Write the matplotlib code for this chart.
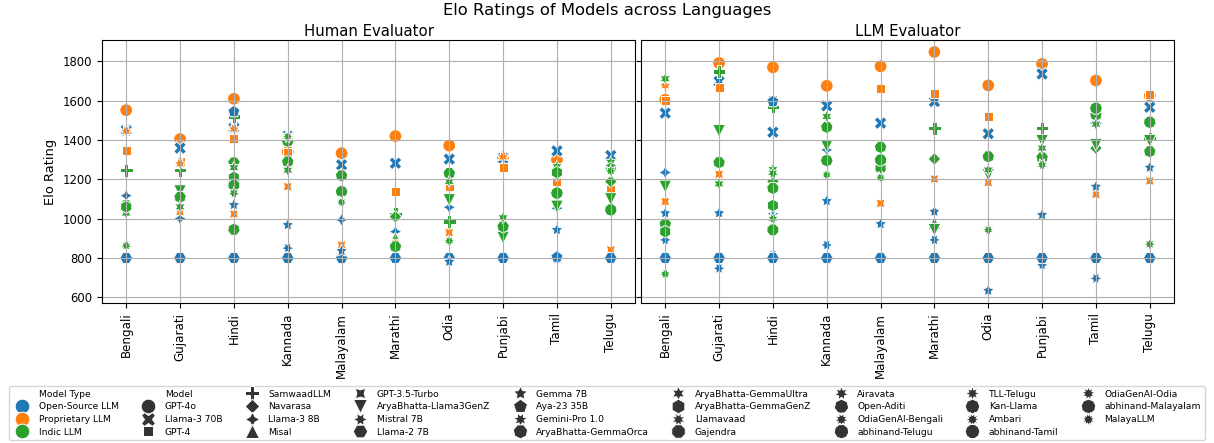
import numpy as np
import pandas as pd
import matplotlib
matplotlib.use("Agg")
import matplotlib.pyplot as plt
import seaborn as sns

nan = np.nan

languages = ["Bengali", "Gujarati", "Hindi", "Kannada", "Malayalam",
             "Marathi", "Odia", "Punjabi", "Tamil", "Telugu"]

type_order = ["Open-Source LLM", "Proprietary LLM", "Indic LLM"]

models = ["GPT-4o", "Llama-3 70B", "GPT-4", "SamwaadLLM", "Navarasa", "Llama-3 8B",
          "Misal", "GPT-3.5-Turbo", "AryaBhatta-Llama3GenZ", "Mistral 7B", "Llama-2 7B",
          "Gemma 7B", "Aya-23 35B", "Gemini-Pro 1.0", "AryaBhatta-GemmaOrca",
          "AryaBhatta-GemmaUltra", "AryaBhatta-GemmaGenZ", "Llamavaad", "Gajendra",
          "Airavata", "Open-Aditi", "OdiaGenAI-Bengali", "abhinand-Telugu", "TLL-Telugu",
          "Kan-Llama", "Ambari", "abhinand-Tamil", "OdiaGenAI-Odia",
          "abhinand-Malayalam", "MalayaLLM"]

open_source = ["Llama-3 70B", "Llama-3 8B", "Mistral 7B", "Llama-2 7B", "Gemma 7B", "Aya-23 35B"]
proprietary = ["GPT-4o", "GPT-4", "GPT-3.5-Turbo", "Gemini-Pro 1.0"]

# per language: model names, human evaluator elo, llm evaluator elo
bengali_models = ["GPT-4o", "Llama-3 70B", "GPT-4", "SamwaadLLM", "Llama-3 8B", "GPT-3.5-Turbo",
                  "AryaBhatta-Llama3GenZ", "Mistral 7B", "Llama-2 7B", "Gemma 7B", "Gemini-Pro 1.0",
                  "AryaBhatta-GemmaOrca", "AryaBhatta-GemmaUltra", "AryaBhatta-GemmaGenZ",
                  "OdiaGenAI-Bengali"]
bengali_human = [1552, 1450, 1347, 1247, 1117, nan, nan, nan, 800, nan, 1445, 1068, 1028, 1060, 862]
bengali_llm = [1605, 1537, 1600, nan, 1235, 1087, 1163, 892, 800, 1028, 1678, 973, 1712, 934, 718]

gujarati_models = ["GPT-4o", "Llama-3 70B", "GPT-4", "SamwaadLLM", "Llama-3 8B", "GPT-3.5-Turbo",
                   "AryaBhatta-Llama3GenZ", "Mistral 7B", "Llama-2 7B", "Gemma 7B", "Gemini-Pro 1.0",
                   "AryaBhatta-GemmaOrca", "AryaBhatta-GemmaUltra"]
gujarati_human = [1405, 1359, 1291, 1247, 1000, 1036, 1140, 805, 800, nan, 1280, 1110, 1060]
gujarati_llm = [1792, 1698, 1665, 1749, nan, 1226, 1447, 747, 800, 1028, nan, 1286, 1177]

hindi_models = ["GPT-4o", "Llama-3 70B", "GPT-4", "SamwaadLLM", "Navarasa", "GPT-3.5-Turbo",
                "Mistral 7B", "Llama-2 7B", "Gemma 7B", "Aya-23 35B", "Gemini-Pro 1.0",
                "AryaBhatta-GemmaOrca", "AryaBhatta-GemmaUltra", "AryaBhatta-GemmaGenZ",
                "Llamavaad", "Gajendra", "Airavata", "Open-Aditi"]
hindi_human = [1610, 1462, 1410, 1520, 1190, 1024, nan, 800, 1070, 1545, 1457,
               1285, 1260, 1210, nan, 1170, 1130, 945]
hindi_llm = [1770, 1440, 1605, 1570, 1190, nan, 815, 800, 1020, 1596, nan,
             1155, 1250, 1067, 1000, 943, 1230, nan]

kannada_models = ["GPT-4o", "Llama-3 70B", "GPT-4", "Llama-3 8B", "GPT-3.5-Turbo",
                  "AryaBhatta-Llama3GenZ", "Mistral 7B", "Llama-2 7B", "Gemma 7B",
                  "AryaBhatta-GemmaOrca", "AryaBhatta-GemmaUltra", "Kan-Llama", "Ambari"]
kannada_human = [1340, 1420, 1335, nan, 1163, nan, 850, 800, 968, 1290, 1247, 1395, 1418]
kannada_llm = [1676, 1574, nan, 1350, nan, 1370, 866, 800, 1090, 1466, 1520, 1296, 1223]

malayalam_models = ["GPT-4o", "Llama-3 70B", "GPT-4", "Llama-3 8B", "GPT-3.5-Turbo",
                    "Llama-2 7B", "Gemma 7B", "AryaBhatta-GemmaOrca", "AryaBhatta-GemmaGenZ",
                    "abhinand-Malayalam", "MalayaLLM"]
malayalam_human = [1333, 1274, nan, 994, 866, 800, 836, 1219, nan, 1138, 1084]
malayalam_llm = [1775, 1486, 1664, nan, 1078, 800, 973, 1364, 1257, 1299, 1209]

marathi_models = ["GPT-4o", "Llama-3 70B", "GPT-4", "SamwaadLLM", "Navarasa", "Llama-3 8B",
                  "Misal", "GPT-3.5-Turbo", "AryaBhatta-Llama3GenZ", "Mistral 7B",
                  "Llama-2 7B", "Gemma 7B", "AryaBhatta-GemmaOrca"]
marathi_human = [1420, 1282, 1138, 1025, 1010, 934, 900, 875, nan, 800, 800, nan, 858]
marathi_llm = [1848, 1596, 1639, 1460, 1304, nan, 977, 1202, 943, 892, 800, 1036, nan]

odia_models = ["GPT-4o", "Llama-3 70B", "GPT-4", "SamwaadLLM", "Llama-3 8B", "GPT-3.5-Turbo",
               "AryaBhatta-Llama3GenZ", "Llama-2 7B", "Gemma 7B", "AryaBhatta-GemmaOrca",
               "AryaBhatta-GemmaUltra", "OdiaGenAI-Odia"]
odia_human = [1372, 1303, 1163, 985, 1058, 929, 1095, 800, 781, 1231, 1189, 887]
odia_llm = [1678, 1432, 1520, nan, nan, 1184, 1223, 800, 634, 1316, 1248, 943]

punjabi_models = ["GPT-4o", "Llama-3 70B", "GPT-4", "SamwaadLLM", "AryaBhatta-Llama3GenZ",
                  "Mistral 7B", "Llama-2 7B", "Gemma 7B", "Gemini-Pro 1.0",
                  "AryaBhatta-GemmaOrca", "AryaBhatta-GemmaUltra", "Llamavaad"]
punjabi_human = [1312, 1308, 1260, nan, 904, 800, 800, nan, 1315, 960, 1005, nan]
punjabi_llm = [1787, 1736, nan, 1460, 1396, 765, 800, 1019, nan, 1311, 1359, 1274]

tamil_models = ["GPT-4o", "Llama-3 70B", "GPT-4", "Navarasa", "Llama-3 8B", "GPT-3.5-Turbo",
                "AryaBhatta-Llama3GenZ", "Mistral 7B", "Llama-2 7B", "Gemma 7B", "Aya-23 35B",
                "AryaBhatta-GemmaOrca", "AryaBhatta-GemmaUltra", "AryaBhatta-GemmaGenZ",
                "abhinand-Tamil"]
tamil_human = [1300, 1345, 1189, 1222, 1053, nan, 1062, nan, 800, 943, 805,
               nan, 1265, 1235, 1130]
tamil_llm = [1703, 1503, nan, 1359, nan, 1124, 1376, 696, 800, 1163, nan,
             1528, 1481, nan, 1562]

telugu_models = ["GPT-4o", "Llama-3 70B", "GPT-4", "SamwaadLLM", "Navarasa", "GPT-3.5-Turbo",
                 "AryaBhatta-Llama3GenZ", "Mistral 7B", "Llama-2 7B", "Gemma 7B",
                 "AryaBhatta-GemmaOrca", "AryaBhatta-GemmaUltra", "AryaBhatta-GemmaGenZ",
                 "abhinand-Telugu", "TLL-Telugu"]
telugu_human = [nan, 1321, 1146, nan, 1189, 841, 1100, 800, 800, nan,
                nan, 1287, 1255, 1045, 1243]
telugu_llm = [1625, 1567, 1630, 1410, nan, 1192, 1396, nan, 800, 1260,
              1342, nan, nan, 1491, 870]


def model_type(name):
    if name in open_source:
        return "Open-Source LLM"
    if name in proprietary:
        return "Proprietary LLM"
    return "Indic LLM"


def build_frame():
    table = [
        (bengali_models, bengali_human, bengali_llm),
        (gujarati_models, gujarati_human, gujarati_llm),
        (hindi_models, hindi_human, hindi_llm),
        (kannada_models, kannada_human, kannada_llm),
        (malayalam_models, malayalam_human, malayalam_llm),
        (marathi_models, marathi_human, marathi_llm),
        (odia_models, odia_human, odia_llm),
        (punjabi_models, punjabi_human, punjabi_llm),
        (tamil_models, tamil_human, tamil_llm),
        (telugu_models, telugu_human, telugu_llm),
    ]
    rows = []
    for i, (names, human, llm) in enumerate(table):
        for name, h, l in zip(names, human, llm):
            rows.append({"pos": i, "Model": name, "Model Type": model_type(name),
                         "Human": h, "LLM": l})
    df = pd.DataFrame(rows)
    # keep model order so that later models draw on top
    df["order"] = df["Model"].apply(models.index)
    df = df.sort_values(["order"], kind="stable")
    return df


df = build_frame()

fig = plt.figure(figsize=(12.14, 4.43), dpi=100)
ax1 = fig.add_axes([102 / 1214, 1 - 303 / 443, 533 / 1214, 263 / 443])
ax2 = fig.add_axes([641 / 1214, 1 - 303 / 443, 533 / 1214, 263 / 443], sharey=ax1)

for ax, col, title in [(ax1, "Human", "Human Evaluator"), (ax2, "LLM", "LLM Evaluator")]:
    sub = df[df[col].notna()]
    sns.scatterplot(data=sub, x="pos", y=col, hue="Model Type", style="Model",
                    hue_order=type_order, style_order=models, s=85, ax=ax)
    ax.set_title(title, fontsize=10.7, pad=3)
    ax.set_xlabel("")
    ax.set_xticks(range(len(languages)))
    ax.set_xticklabels(languages, rotation=90, fontsize=8.6)
    ax.set_xlim(-0.45, len(languages) - 0.55)
    ax.grid(True)
    ax.tick_params(axis="y", labelsize=8.4)

ax1.set_ylabel("Elo Rating", fontsize=9.4)
ax2.set_ylabel("")
ax2.tick_params(axis="y", labelleft=False)
ax1.set_ylim(571, 1909)

leg = ax1.get_legend()
handles = leg.legend_handles
labels = [t.get_text() for t in leg.get_texts()]
ax1.get_legend().remove()
ax2.get_legend().remove()

fig.legend(handles, labels, loc="lower center", ncol=9, fontsize=6.6,
           bbox_to_anchor=(0.5, 0.0), frameon=True, labelspacing=0.4,
           columnspacing=2.2, markerscale=1.15, borderaxespad=0.3)

fig.suptitle("Elo Ratings of Models across Languages", fontsize=11.8, y=0.993)

fig.savefig("out.png", dpi=100)
